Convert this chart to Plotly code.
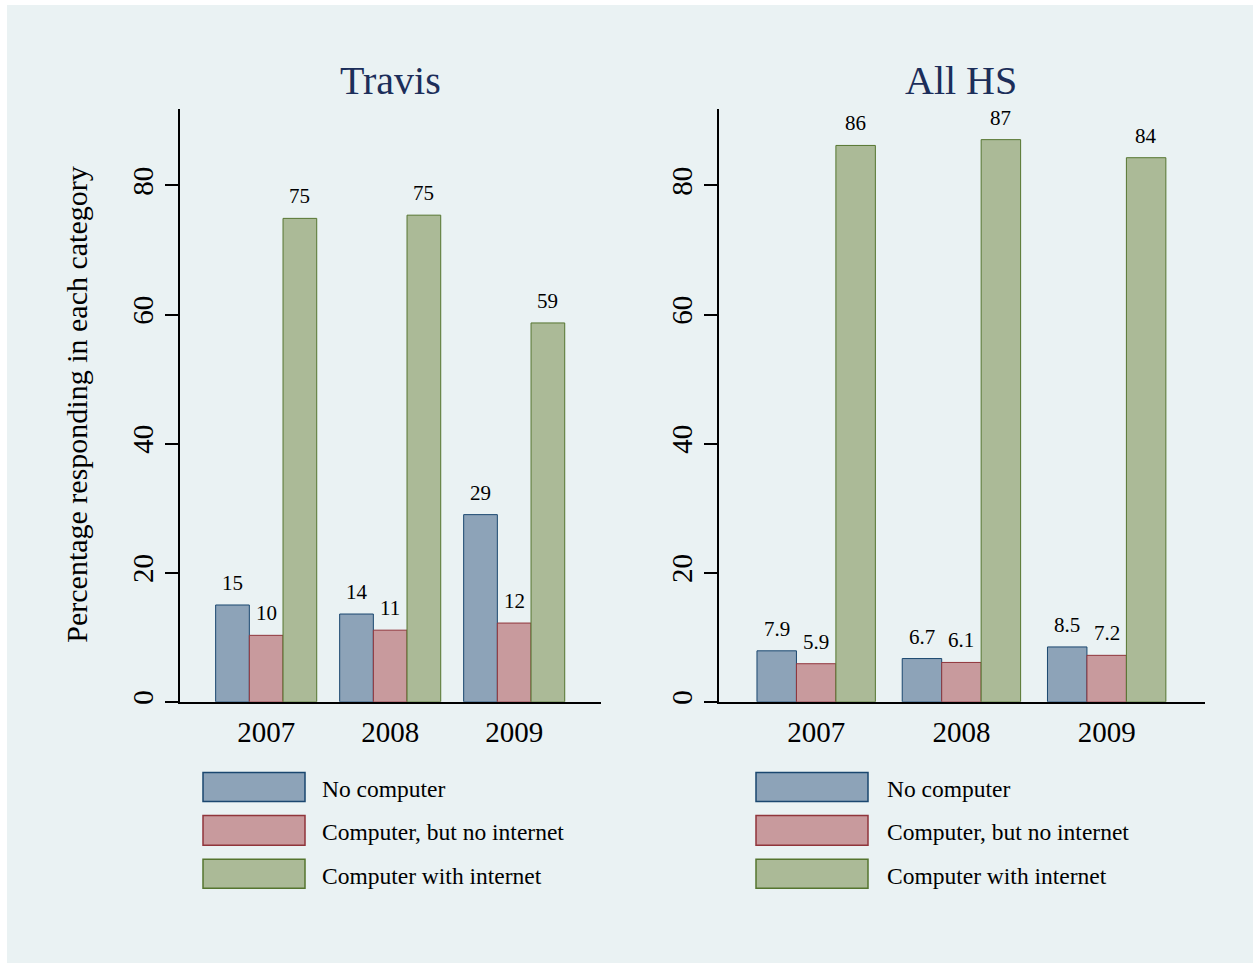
import plotly.graph_objects as go
from plotly.subplots import make_subplots

# data
years = ["2007", "2008", "2009"]
categories = ["No computer", "Computer, but no internet", "Computer with internet"]
panels = ["Travis", "All HS"]

travis_no_computer = [15.0, 13.6, 29.0]
travis_no_internet = [10.3, 11.1, 12.2]
travis_with_internet = [74.9, 75.4, 58.7]

allhs_no_computer = [7.9, 6.7, 8.5]
allhs_no_internet = [5.9, 6.1, 7.2]
allhs_with_internet = [86.2, 87.1, 84.3]

y_ticks = [0, 20, 40, 60, 80]

fill_colors = ["#8da3b8", "#c89a9d", "#abba97"]
line_colors = ["#1a476f", "#90353b", "#55752f"]
bg = "#eaf2f3"
title_color = "#1c2e5a"
font_family = "Liberation Serif"

W, H = 1253, 963
bargap = 0.185


def fx(p):
    return p / W


def fy(p):
    return 1 - p / H


panel_series = [
    [travis_no_computer, travis_no_internet, travis_with_internet],
    [allhs_no_computer, allhs_no_internet, allhs_with_internet],
]

fig = make_subplots(rows=1, cols=2)

for col, series in enumerate(panel_series, start=1):
    for k, vals in enumerate(series):
        fig.add_trace(go.Bar(x=years, y=vals, name=categories[k],
                             marker=dict(color=fill_colors[k],
                                         line=dict(color=line_colors[k], width=1)),
                             showlegend=False, hoverinfo="x+y"),
                      row=1, col=col)

annotations = []

# value labels above the bars
bar_w = (1 - bargap) / 3
for col, series in enumerate(panel_series, start=1):
    xref = "x" if col == 1 else "x2"
    yref = "y" if col == 1 else "y2"
    for k, vals in enumerate(series):
        for i, v in enumerate(vals):
            annotations.append(dict(x=i + (k - 1) * bar_w, y=v, xref=xref, yref=yref,
                                    text=f"{v:.2g}", showarrow=False,
                                    yanchor="bottom", yshift=8,
                                    font=dict(family=font_family, size=21, color="black")))

# panel titles
title_x = [390, 961]
for name, tx in zip(panels, title_x):
    annotations.append(dict(x=fx(tx), y=fy(81), xref="paper", yref="paper",
                            text=name, showarrow=False, xanchor="center", yanchor="middle",
                            font=dict(family=font_family, size=40, color=title_color)))

# y axis title
annotations.append(dict(x=fx(77), y=fy(406), xref="paper", yref="paper",
                        text="Percentage responding in each category", textangle=-90,
                        showarrow=False, xanchor="center", yanchor="middle",
                        font=dict(family=font_family, size=30, color="black")))

# legends drawn by hand, one under each panel
shapes = [dict(type="rect", xref="paper", yref="paper", x0=fx(7), x1=1.01, y0=-0.01, y1=fy(5),
               fillcolor=bg, line=dict(width=0), layer="below")]
legend_rows = [(775, 804), (818, 848), (862, 891)]
legend_boxes = [(203, 305, 320), (756, 868, 885)]
for x0, x1, tx in legend_boxes:
    for k, (r0, r1) in enumerate(legend_rows):
        shapes.append(dict(type="rect", xref="paper", yref="paper",
                           x0=fx(x0), x1=fx(x1), y0=fy(r1), y1=fy(r0),
                           fillcolor=fill_colors[k], line=dict(color=line_colors[k], width=1.5)))
        annotations.append(dict(x=fx(tx), y=fy((r0 + r1) / 2 + 2), xref="paper", yref="paper",
                                text=categories[k], showarrow=False,
                                xanchor="left", yanchor="middle",
                                font=dict(family=font_family, size=23.5, color="black")))

axis_common = dict(showline=True, linecolor="black", linewidth=2, mirror=False)

fig.update_layout(
    autosize=True,
    margin=dict(l=0, r=0, t=0, b=0),
    paper_bgcolor="white", plot_bgcolor="white",
    barmode="group", bargap=bargap, bargroupgap=0,
    font=dict(family=font_family, color="black"),
    annotations=annotations, shapes=shapes,
    xaxis=dict(domain=[fx(180), fx(601)], range=[-0.695, 2.70], type="category",
               ticks="", tickfont=dict(size=29), ticklabelstandoff=3, **axis_common),
    xaxis2=dict(domain=[fx(719), fx(1205)], range=[-0.669, 2.677], type="category",
                ticks="", tickfont=dict(size=29), ticklabelstandoff=3, **axis_common),
)

for name in ["yaxis", "yaxis2"]:
    fig.layout[name].update(
        domain=[fy(704), fy(109)], range=[0, 91.9],
        tickvals=y_ticks, ticks="outside", ticklen=13, tickwidth=2, tickcolor="black",
        tickangle=-90, tickfont=dict(size=29),
        showgrid=True, gridcolor=bg, gridwidth=2, zeroline=False, **axis_common)

# the page fills the browser window exactly (no body margin, no scrolling)
fig.write_html(
    "out.html",
    config={"displayModeBar": False, "responsive": True},
    default_width="100vw", default_height="100vh",
    post_script="document.documentElement.style.overflow='hidden';"
                "document.body.style.margin='0';"
                "Plotly.Plots.resize(document.getElementById('{plot_id}'));",
)
